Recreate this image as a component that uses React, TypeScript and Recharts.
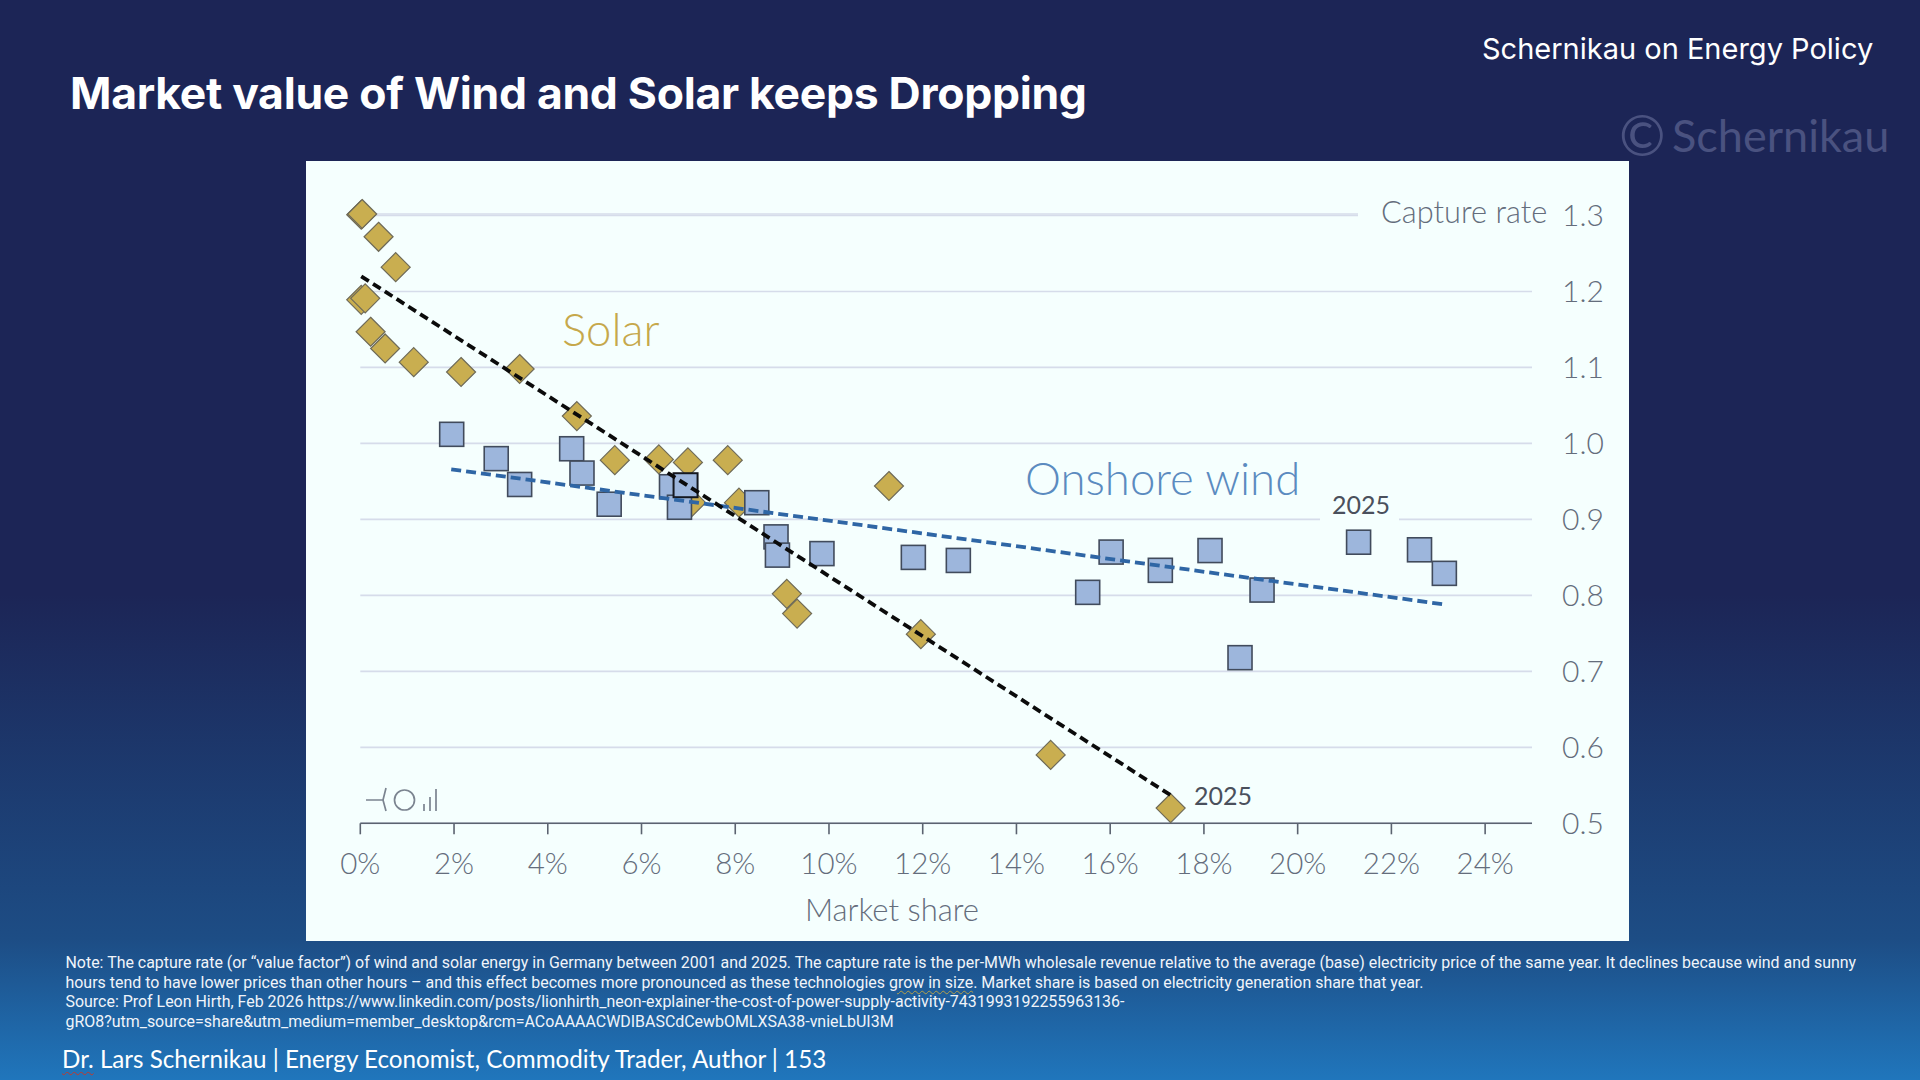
import React from 'react';
import { ScatterChart, Scatter, XAxis, YAxis, CartesianGrid } from 'recharts';

// Values
const solarShare = [0.02, 0.04, 0.39, 0.755, 0.02, 0.105, 0.22, 0.53, 1.14, 2.15, 3.4, 4.62, 5.43, 6.37, 6.99, 7.84, 11.28, 8.08, 7.06, 9.1, 9.32, 11.96, 14.73, 17.29];
const solarRate = [1.301, 1.302, 1.272, 1.232, 1.189, 1.191, 1.147, 1.125, 1.107, 1.094, 1.098, 1.036, 0.978, 0.979, 0.975, 0.978, 0.944, 0.922, 0.922, 0.802, 0.776, 0.749, 0.59, 0.52];
const windShare = [1.95, 2.9, 3.4, 4.51, 4.73, 5.31, 6.64, 6.81, 8.46, 8.87, 8.9, 9.85, 11.8, 12.76, 15.52, 16.02, 17.07, 18.13, 19.24, 18.77, 21.3, 22.6, 23.13];
const windRate = [1.012, 0.98, 0.946, 0.993, 0.961, 0.92, 0.943, 0.916, 0.922, 0.877, 0.853, 0.855, 0.85, 0.846, 0.804, 0.857, 0.833, 0.859, 0.807, 0.718, 0.87, 0.86, 0.829];
const windFrontShare = [6.94];
const windFrontRate = [0.945];
const solarTrendShare = [0.02, 17.29];
const solarTrendRate = [1.22, 0.537];
const windTrendShare = [1.94, 23.14];
const windTrendRate = [0.966, 0.788];
const xTicks = [0, 2, 4, 6, 8, 10, 12, 14, 16, 18, 20, 22, 24];
const yTicks = [0.5, 0.6, 0.7, 0.8, 0.9, 1.0, 1.1, 1.2, 1.3];

const noteLines = [
  'Note: The capture rate (or “value factor”) of wind and solar energy in Germany between 2001 and 2025. The capture rate is the per-MWh wholesale revenue relative to the average (base) electricity price of the same year. It declines because wind and sunny',
  'hours tend to have lower prices than other hours – and this effect becomes more pronounced as these technologies |grow in size|. Market share is based on electricity generation share that year.',
  'Source: Prof Leon Hirth, Feb 2026 https://www.linkedin.com/posts/lionhirth_neon-explainer-the-cost-of-power-supply-activity-7431993192255963136-',
  'gRO8?utm_source=share&utm_medium=member_desktop&rcm=ACoAAAACWDIBASCdCewbOMLXSA38-vnieLbUI3M',
];

const zip = (xs: number[], ys: number[]) => xs.map((x, i) => ({ x, y: ys[i] }));

const PANEL = '#f5fffe';
const LABEL = '#646d7c';

const Diamond = ({ cx, cy }: any) => (
  <polygon
    points={`${cx},${cy - 14.5} ${cx + 14.5},${cy} ${cx},${cy + 14.5} ${cx - 14.5},${cy}`}
    fill="#c9ae50"
    stroke="#6e6a58"
    strokeWidth={1.2}
  />
);

const Square = ({ cx, cy }: any) => (
  <rect x={cx - 12} y={cy - 12} width={24} height={24} fill="#9db6dc" stroke="#414b5c" strokeWidth={1.6} />
);

const FrontSquare = ({ cx, cy }: any) => (
  <rect x={cx - 12} y={cy - 12} width={24} height={24} fill="#9db6dc" stroke="#15181f" strokeWidth={2} />
);

const NoDot = () => <g />;

// text placed in page coordinates, vertically centred on y
function Txt({ x, y, size, color, font = 'Lato', weight = 400, bg, spacing, children }: any) {
  return (
    <div
      style={{
        position: 'absolute',
        left: x,
        top: y,
        transform: 'translateY(-50%)',
        fontFamily: font,
        fontSize: size,
        fontWeight: weight,
        color,
        background: bg,
        letterSpacing: spacing,
        whiteSpace: 'nowrap',
        lineHeight: 1.2,
      }}
    >
      {children}
    </div>
  );
}

function NoteLine({ text }: { text: string }) {
  const parts = text.split('|');
  return (
    <>
      {parts.map((p, i) => (
        <span
          key={i}
          style={i === 1 ? { textDecoration: 'underline wavy #b5a04a 1px', textUnderlineOffset: 2 } : undefined}
        >
          {p}
        </span>
      ))}
    </>
  );
}

export default function App() {
  return (
    <div
      style={{
        position: 'fixed',
        left: 0,
        top: 0,
        width: 1920,
        height: 1080,
        overflow: 'hidden',
        background: 'linear-gradient(180deg, #1c2556 0%, #1c2556 55%, #1d4d85 87%, #2076bc 100%)',
      }}
    >
      <Txt x={70} y={94} size={44.5} color="#ffffff" font="Inter" weight={700} spacing={-0.3}>
        Market value of Wind and Solar keeps Dropping
      </Txt>
      <Txt x={1482} y={49} size={29} color="#ffffff" font="Inter" weight={400}>
        Schernikau on Energy Policy
      </Txt>
      <Txt x={1619} y={135} size={56} color="#4a5280" weight={400}>
        ©
      </Txt>
      <Txt x={1672} y={135} size={45} color="#4a5280" weight={400}>
        Schernikau
      </Txt>

      <div style={{ position: 'absolute', left: 306, top: 161, width: 1323, height: 780, background: PANEL }}>
        <ScatterChart
          width={1323}
          height={780}
          margin={{ left: 54.3, top: 53, right: 0, bottom: 0 }}
        >
          <CartesianGrid horizontal vertical={false} stroke="#d6dcea" strokeWidth={1.7} />
          <XAxis
            type="number"
            dataKey="x"
            domain={[0, 25]}
            ticks={xTicks}
            tickFormatter={(v) => `${v}%`}
            tick={{ fill: LABEL, fontFamily: 'Lato', fontWeight: 300, fontSize: 29.5 }}
            tickSize={11}
            tickMargin={19}
            stroke="#5b6370"
            strokeWidth={1.6}
            height={117.7}
          />
          <YAxis
            type="number"
            dataKey="y"
            orientation="right"
            domain={[0.5, 1.3]}
            ticks={yTicks}
            tickFormatter={(v) => v.toFixed(1)}
            tick={{ fill: LABEL, fontFamily: 'Lato', fontWeight: 300, fontSize: 30 }}
            tickLine={false}
            axisLine={false}
            tickMargin={24}
            width={97}
          />
          <Scatter data={zip(solarShare, solarRate)} shape={Diamond} isAnimationActive={false} />
          <Scatter data={zip(windShare, windRate)} shape={Square} isAnimationActive={false} />
          <Scatter data={zip(windFrontShare, windFrontRate)} shape={FrontSquare} isAnimationActive={false} />
          <Scatter
            data={zip(windTrendShare, windTrendRate)}
            line={{ stroke: '#2f66a5', strokeWidth: 3.8, strokeDasharray: '10 5' }}
            shape={NoDot}
            isAnimationActive={false}
          />
          <Scatter
            data={zip(solarTrendShare, solarTrendRate)}
            line={{ stroke: '#0b0b0b', strokeWidth: 3.8, strokeDasharray: '9 5' }}
            shape={NoDot}
            isAnimationActive={false}
          />
        </ScatterChart>
      </div>

      <Txt x={562} y={329} size={45.5} color="#c6a84b" weight={300}>
        Solar
      </Txt>
      <Txt x={1025} y={478} size={45.5} color="#5b8bc0" weight={300}>
        Onshore wind
      </Txt>
      <div style={{ position: 'absolute', left: 1358, top: 206, width: 174, height: 16, background: PANEL }} />
      <Txt x={1381} y={212} size={30.8} color={LABEL} weight={300}>
        Capture rate
      </Txt>
      <div style={{ position: 'absolute', left: 1320, top: 512, width: 79, height: 14, background: PANEL }} />
      <Txt x={1332} y={504} size={25} color="#4a505c" weight={400}>
        2025
      </Txt>
      <Txt x={1194} y={795} size={25} color="#4a505c" weight={400}>
        2025
      </Txt>
      <Txt x={805} y={910} size={31} color={LABEL} weight={300}>
        Market share
      </Txt>

      {/* small wind / sun / bars pictogram */}
      <svg style={{ position: 'absolute', left: 360, top: 780, overflow: 'visible' }} width={90} height={40}>
        <g fill="none" stroke="#7b8490" strokeWidth={1.7}>
          <path d="M6 20 H23 M26 8 L23 20 L26 31" />
          <circle cx={44.5} cy={20} r={10} />
          <path d="M64 31 V24 M70 31 V17 M76 31 V9" />
        </g>
      </svg>

      {noteLines.map((line, i) => (
        <Txt key={i} x={65.5} y={962.7 + i * 19.8} size={15.95} color="#f0f4fa" font="Roboto">
          <NoteLine text={line} />
        </Txt>
      ))}

      <Txt x={62} y={1059} size={24.2} color="#ffffff">
        <span style={{ textDecoration: 'underline wavy #c0392b 1px', textUnderlineOffset: 3 }}>Dr.</span> Lars Schernikau | Energy Economist, Commodity Trader, Author | 153
      </Txt>
    </div>
  );
}
